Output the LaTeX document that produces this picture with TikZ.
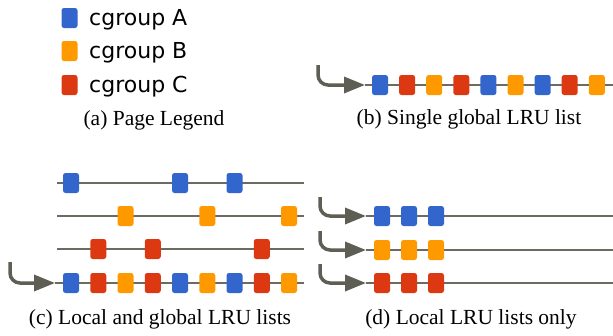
\documentclass[tikz,border=0pt]{standalone}
\usepackage{fontspec}
\setmainfont{Liberation Serif}
\newfontfamily\legfont{DejaVu Sans}
\usetikzlibrary{arrows.meta}
\definecolor{cgA}{HTML}{3366CC}
\definecolor{cgB}{HTML}{FF9900}
\definecolor{cgC}{HTML}{DC3912}
\definecolor{lgray}{HTML}{6B6B62}
\definecolor{agray}{HTML}{5E5E55}
\tikzset{
  pg/.style={rounded corners=2.5pt, minimum width=16pt, minimum height=20pt, inner sep=0pt},
  pa/.style={pg, fill=cgA}, pb/.style={pg, fill=cgB}, pc/.style={pg, fill=cgC},
  lst/.style={draw=lgray, line width=1.5pt},
  hook/.style={draw=agray, line width=3.5pt, rounded corners=10pt, -{Triangle[length=21pt,width=16pt]}},
  legtxt/.style={anchor=base west, font=\legfont\fontsize{22}{24}\selectfont, inner sep=0pt},
  capt/.style={anchor=base, font=\fontsize{21.5}{24}\selectfont, inner sep=0pt}
}
\begin{document}
\begin{tikzpicture}[x=1pt, y=-1pt]
\useasboundingbox (0,0) rectangle (613,335);
% (a) legend
\node[pa] (la) at (69.5,18) {};
\node[pb] (lb) at (69.5,51) {};
\node[pc] (lc) at (69.5,85) {};
\node[legtxt] (ta) at (89,25.5) {cgroup A};
\node[legtxt] (tb) at (89,58.5) {cgroup B};
\node[legtxt] (tc) at (89,92.5) {cgroup C};
\node[capt] (capa) at (154,125) {(a) Page Legend};
% (b) single global list
\coordinate (bin) at (318,65);
\coordinate (bs) at (365,85);
\coordinate (be) at (613,85);
\draw[lst] (bs) -- (be);
\draw[hook] (bin) |- (bs);
\node[pa] (b1) at (380,85) {};   \node[pc] (b2) at (407.1,85) {}; \node[pb] (b3) at (434.2,85) {};
\node[pc] (b4) at (461.3,85) {}; \node[pa] (b5) at (488.4,85) {}; \node[pb] (b6) at (515.5,85) {};
\node[pa] (b7) at (542.6,85) {}; \node[pc] (b8) at (569.7,85) {}; \node[pb] (b9) at (596.8,85) {};
\node[capt] (capb) at (469,124) {(b) Single global LRU list};
% (c) local and global lists
\coordinate (c1s) at (57,183); \coordinate (c1e) at (304,183);
\coordinate (c2s) at (57,216); \coordinate (c2e) at (304,216);
\coordinate (c3s) at (57,249); \coordinate (c3e) at (304,249);
\coordinate (c4s) at (55,283); \coordinate (c4e) at (304,283);
\coordinate (cin) at (10,262);
\draw[lst] (c1s) -- (c1e);
\draw[lst] (c2s) -- (c2e);
\draw[lst] (c3s) -- (c3e);
\draw[lst] (c4s) -- (c4e);
\draw[hook] (cin) |- (c4s);
\node[pa] (ca1) at (71,183) {};    \node[pa] (ca2) at (180,183) {};   \node[pa] (ca3) at (234.5,183) {};
\node[pb] (cb1) at (125.5,216) {}; \node[pb] (cb2) at (207.25,216) {}; \node[pb] (cb3) at (289,216) {};
\node[pc] (cc1) at (98.25,249) {}; \node[pc] (cc2) at (152.75,249) {}; \node[pc] (cc3) at (261.75,249) {};
\node[pa] (g1) at (71,283) {};     \node[pc] (g2) at (98.25,283) {};  \node[pb] (g3) at (125.5,283) {};
\node[pc] (g4) at (152.75,283) {}; \node[pa] (g5) at (180,283) {};    \node[pb] (g6) at (207.25,283) {};
\node[pa] (g7) at (234.5,283) {};  \node[pc] (g8) at (261.75,283) {}; \node[pb] (g9) at (289,283) {};
\node[capt] (capc) at (160,324) {(c) Local and global LRU lists};
% (d) local lists only
\coordinate (d1s) at (366,216); \coordinate (d1e) at (613,216); \coordinate (d1in) at (320,197);
\coordinate (d2s) at (366,250); \coordinate (d2e) at (613,250); \coordinate (d2in) at (320,231);
\coordinate (d3s) at (366,283); \coordinate (d3e) at (613,283); \coordinate (d3in) at (320,264);
\draw[lst] (d1s) -- (d1e);
\draw[lst] (d2s) -- (d2e);
\draw[lst] (d3s) -- (d3e);
\draw[hook] (d1in) |- (d1s);
\draw[hook] (d2in) |- (d2s);
\draw[hook] (d3in) |- (d3s);
\node[pa] (da1) at (382,216) {}; \node[pa] (da2) at (409,216) {}; \node[pa] (da3) at (436,216) {};
\node[pb] (db1) at (382,250) {}; \node[pb] (db2) at (409,250) {}; \node[pb] (db3) at (436,250) {};
\node[pc] (dc1) at (382,283) {}; \node[pc] (dc2) at (409,283) {}; \node[pc] (dc3) at (436,283) {};
\node[capt] (capd) at (471,324) {(d) Local LRU lists only};
\end{tikzpicture}
\end{document}
